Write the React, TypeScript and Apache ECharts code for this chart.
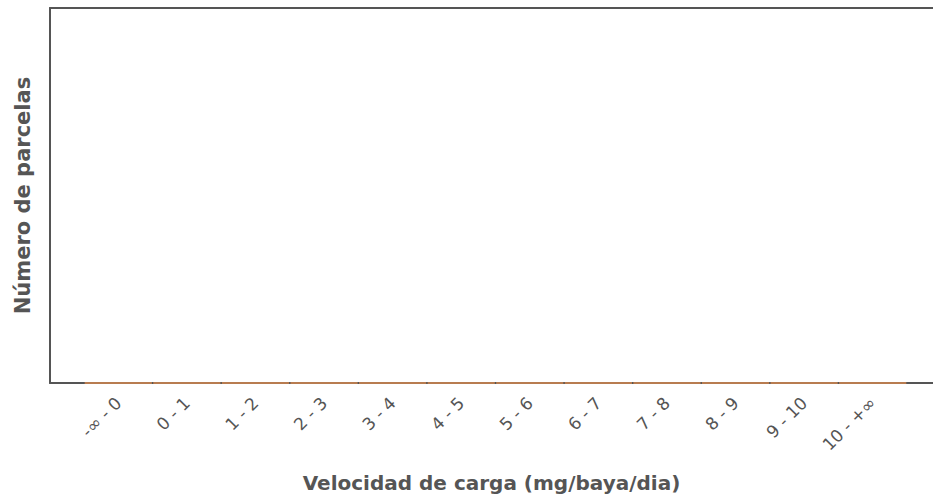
import React, { useEffect, useRef } from "react";
import * as echarts from "echarts";

const categories = ["-∞ - 0", "0 - 1", "1 - 2", "2 - 3", "3 - 4", "4 - 5", "5 - 6", "6 - 7", "7 - 8", "8 - 9", "9 - 10", "10 - +∞"];
const parcelCounts = [0, 0, 0, 0, 0, 0, 0, 0, 0, 0, 0, 0];
const xTitle = "Velocidad de carga (mg/baya/dia)";
const yTitle = "Número de parcelas";

export default function App() {
  const ref = useRef<HTMLDivElement>(null);
  useEffect(() => {
    if (!ref.current) return;
    const chart = echarts.init(ref.current, null, { renderer: "svg" });
    const axisColor = "#555555";
    const textColor = "#555555";
    chart.setOption({
      animation: false,
      backgroundColor: "#ffffff",
      grid: [
        { left: 50, right: 0, top: 8, bottom: 117 },
        { left: 84, right: 26, top: 8, bottom: 117 },
      ],
      xAxis: [
        {
          type: "value", gridIndex: 0, position: "bottom", min: 0, max: 1,
          axisLine: { show: true, lineStyle: { color: axisColor, width: 2 } },
          axisTick: { show: false }, axisLabel: { show: false }, splitLine: { show: false },
          name: xTitle, nameLocation: "middle", nameGap: 90,
          nameTextStyle: { color: textColor, fontFamily: "DejaVu Sans", fontWeight: "bold", fontSize: 20 },
        },
        {
          type: "value", gridIndex: 0, position: "top", min: 0, max: 1,
          axisLine: { show: true, lineStyle: { color: axisColor, width: 2 } },
          axisTick: { show: false }, axisLabel: { show: false }, splitLine: { show: false },
        },
        {
          type: "category", gridIndex: 1, data: categories,
          axisLine: { show: false }, axisTick: { show: false }, splitLine: { show: false },
          axisLabel: {
            rotate: 45, margin: 17, interval: 0,
            color: textColor, fontFamily: "DejaVu Sans", fontSize: 17,
          },
        },
      ],
      yAxis: [
        {
          type: "value", gridIndex: 0, min: 0, max: 1,
          axisLine: { show: true, lineStyle: { color: axisColor, width: 2 } },
          axisTick: { show: false }, axisLabel: { show: false }, splitLine: { show: false },
          name: yTitle, nameLocation: "middle", nameGap: 17, nameRotate: 90,
          nameTextStyle: { color: textColor, fontFamily: "DejaVu Sans", fontWeight: "bold", fontSize: 21 },
        },
        {
          type: "value", gridIndex: 1, min: 0, max: 1, show: false,
        },
      ],
      series: [
        {
          type: "bar", xAxisIndex: 2, yAxisIndex: 1, data: parcelCounts,
          barWidth: "98%",
          itemStyle: { color: "#d9894f", borderColor: "#d9894f", borderWidth: 1.5 },
        },
      ],
    });
    return () => chart.dispose();
  }, []);
  return <div ref={ref} style={{ position: "fixed", left: 0, top: 0, width: 933, height: 500 }} />;
}
